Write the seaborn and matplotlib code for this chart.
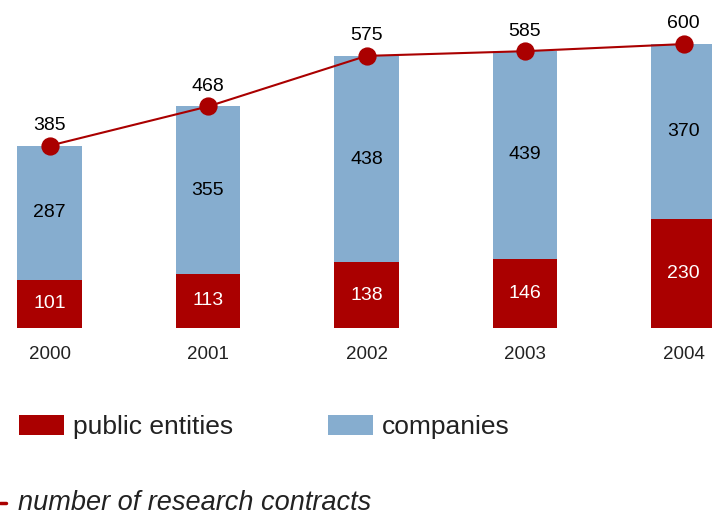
import seaborn as sns
import pandas as pd
import matplotlib.pyplot as plt
from matplotlib.lines import Line2D

# Research contracts by year
years = ['2000', '2001', '2002', '2003', '2004']
public_entities = [101, 113, 138, 146, 230]
companies = [287, 355, 438, 439, 370]
totals = [385, 468, 575, 585, 600]

RED = '#aa0000'
BLUE = '#86adcf'

sns.set_style('white')
plt.rcParams['font.family'] = ['Liberation Sans', 'DejaVu Sans']

df = pd.DataFrame({'year': years, 'public': public_entities,
                   'companies': companies, 'total': totals})

W, H = 712, 516
fig = plt.figure(figsize=(W / 100, H / 100), dpi=100)

# axes placed in pixel terms: baseline at y=327.7 px from top
base_px = 327.7
ax = fig.add_axes([0, (H - base_px) / H, 1, base_px / H])

# stacked bars: total in blue, public part drawn over it in red
sns.barplot(data=df, x='year', y='total', order=years, color=BLUE,
            width=0.41, saturation=1, linewidth=0, ax=ax, label='companies')
sns.barplot(data=df, x='year', y='public', order=years, color=RED,
            width=0.41, saturation=1, linewidth=0, ax=ax, label='public entities')

# line for number of contracts
sns.pointplot(data=df, x='year', y='total', order=years, color=RED,
              markers='o', markersize=12, linewidth=1.5, errorbar=None, ax=ax)

bar_handles = [ax.containers[1], ax.containers[0]]

# labels
for i in range(len(years)):
    p, c, t = public_entities[i], companies[i], totals[i]
    ax.text(i, p / 2, str(p), ha='center', va='center', color='white', fontsize=14)
    ax.text(i, (p + t) / 2, str(c), ha='center', va='center', color='black', fontsize=14)
    ax.annotate(str(t), (i, t), xytext=(0, 14.5), textcoords='offset points',
                ha='center', va='center', color='black', fontsize=14)

unit = 158.5
ax.set_xlim(-49.5 / unit, (W - 49.5) / unit)
ax.set_ylim(0, base_px / 0.4727)
ax.set_xlabel('')
ax.set_ylabel('')
ax.set_yticks([])
ax.tick_params(axis='x', length=0, pad=13, labelsize=13.5, labelcolor='#222222')
sns.despine(ax=ax, left=True, bottom=True)
if ax.get_legend() is not None:
    ax.get_legend().remove()

fig.legend(handles=bar_handles, labels=['public entities', 'companies'],
           loc='center left', bbox_to_anchor=(19 / W, (H - 427) / H),
           ncol=2, frameon=False, fontsize=19, handlelength=1.7,
           handleheight=0.83, handletextpad=0.35, columnspacing=3.6,
           borderpad=0, borderaxespad=0, labelcolor='#222222')

# line legend entry at the bottom
fig.add_artist(Line2D([0, 6 / W], [(H - 503) / H] * 2, color=RED, lw=2.5,
                      transform=fig.transFigure))
fig.text(18 / W, (H - 503) / H, 'number of research contracts', ha='left',
         va='center', fontsize=19.5, style='italic', color='#222222')

fig.savefig('out.png', dpi=100)
